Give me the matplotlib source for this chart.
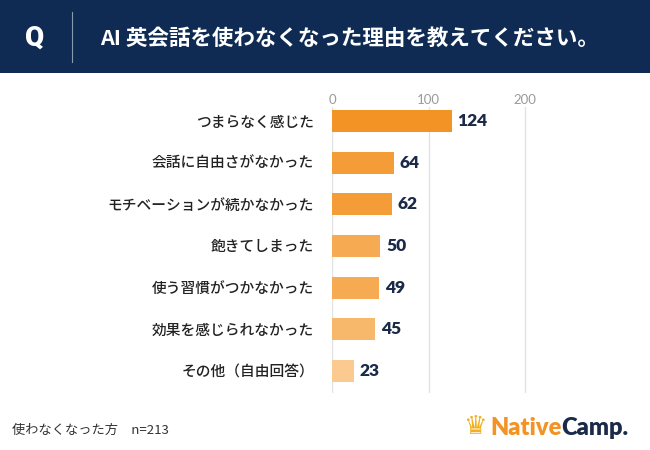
import matplotlib
matplotlib.use("Agg")
import matplotlib.pyplot as plt
from matplotlib.patches import Rectangle

plt.rcParams['font.family'] = ['Noto Sans CJK JP', 'DejaVu Sans']

title = "AI 英会話を使わなくなった理由を教えてください。"
categories = ["つまらなく感じた", "会話に自由さがなかった", "モチベーションが続かなかった",
              "飽きてしまった", "使う習慣がつかなかった", "効果を感じられなかった", "その他（自由回答）"]
values = [124, 64, 62, 50, 49, 45, 23]
bar_colors = ["#F39325", "#F49D38", "#F49D38", "#F6AA51", "#F6AA51", "#F8B86B", "#FBCA90"]
xticks = [0, 100, 200]
footnote = "使わなくなった方　n=213"

W, H = 650, 450
fig = plt.figure(figsize=(6.5, 4.5), dpi=100)
fig.patch.set_facecolor("white")

# header band
fig.patches.append(Rectangle((0, 1 - 73 / H), 1, 73 / H, transform=fig.transFigure,
                             facecolor="#0F2B53", edgecolor="none", zorder=0))
fig.lines.append(plt.Line2D([72 / W, 72 / W], [1 - 12 / H, 1 - 62 / H], transform=fig.transFigure,
                            color="#8C9AB0", lw=0.8))
fig.text(35 / W, 1 - 38 / H, "Q", color="white", fontsize=20, fontweight="black",
         ha="center", va="center", family=["Roboto", "DejaVu Sans"])
fig.text(100 / W, 1 - 38 / H, title, color="white", fontsize=15.5, fontweight="bold",
         ha="left", va="center")

# axes
left, right = 332, 332 + 210 * 0.965
top, bottom = 107, 393
ax = fig.add_axes([left / W, 1 - bottom / H, (right - left) / W, (bottom - top) / H])
y = list(range(len(categories)))
ax.barh(y, values, height=0.53, color=bar_colors, zorder=3)
ax.set_xlim(0, 210)
ax.set_ylim(6.53, -0.336)
ax.set_xticks(xticks)
ax.xaxis.tick_top()
ax.tick_params(axis="x", length=0, pad=1, labelsize=9.5, labelcolor="#9A9A9A")
for lab in ax.get_xticklabels():
    lab.set_family(["Lato", "DejaVu Sans"])
ax.set_yticks(y)
ax.set_yticklabels(categories, fontsize=10.6, color="#222222", fontweight="medium")
ax.tick_params(axis="y", length=0, pad=13)
ax.grid(axis="x", color="#E3E3E3", lw=1, zorder=0)
for s in ax.spines.values():
    s.set_visible(False)
for yi, v in zip(y, values):
    ax.text(v + 6, yi, str(v), va="center", ha="left", fontsize=12.5, fontweight="heavy",
            color="#1B2A48", family=["Lato", "DejaVu Sans"])

# footer
fig.text(12 / W, 1 - 430 / H, footnote, fontsize=9.5, color="#333333", ha="left", va="center")
fig.text(475 / W, 1 - 427 / H, "♛", fontsize=19, color="#F2B01E", ha="center", va="center",
         family=["DejaVu Sans"])
t1 = fig.text(490 / W, 1 - 428 / H, "Native", fontsize=17, fontweight="heavy", color="#F39325",
              ha="left", va="center", family=["Lato", "DejaVu Sans"])
fig.canvas.draw()
bb = t1.get_window_extent()
fig.text(bb.x1 / (W), 1 - 428 / H, "Camp.", fontsize=17, fontweight="heavy", color="#1B2A48",
         ha="left", va="center", family=["Lato", "DejaVu Sans"])

fig.savefig("out.png", dpi=100)
